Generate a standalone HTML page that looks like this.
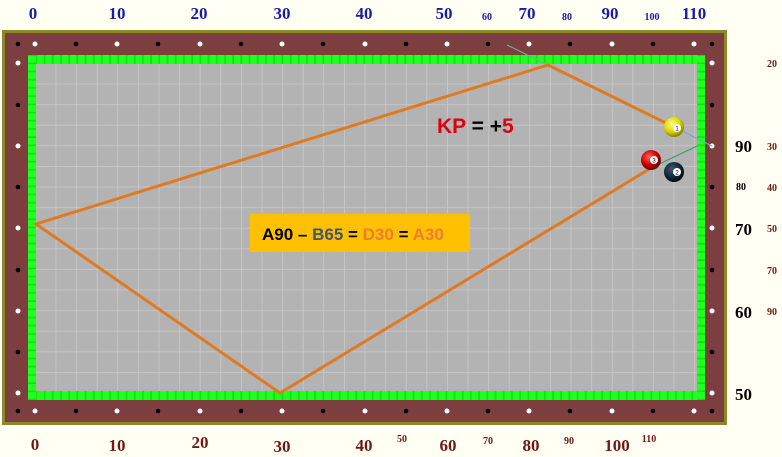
<!DOCTYPE html>
<html><head><meta charset="utf-8"><style>
html,body{margin:0;padding:0;background:#fffff4;}
svg{display:block}
.t{font-family:"Liberation Serif",serif;font-weight:bold;}
</style></head><body>
<svg width="782" height="457" viewBox="0 0 782 457" xmlns="http://www.w3.org/2000/svg">
<defs>
<pattern id="grid" x="35" y="63" width="20.6" height="20.6" patternUnits="userSpaceOnUse">
<rect width="20.6" height="20.6" fill="#b3b3b3"/>
<path d="M0 0H20.6M0 0V20.6" stroke="#cbcbcb" stroke-width="1.5"/>
</pattern>
<pattern id="gh" x="28" y="0" width="8.2" height="10" patternUnits="userSpaceOnUse">
<rect width="8.2" height="10" fill="#00ee00"/><rect x="1" y="0" width="6.5" height="10" fill="#22ff22"/>
</pattern>
<pattern id="gv" x="0" y="55" width="10" height="8.2" patternUnits="userSpaceOnUse">
<rect width="10" height="8.2" fill="#00ee00"/><rect y="1" width="10" height="6.5" fill="#22ff22"/>
</pattern>
<radialGradient id="gy" cx="40%" cy="35%" r="65%"><stop offset="0" stop-color="#ffff90"/><stop offset="0.6" stop-color="#e0d800"/><stop offset="1" stop-color="#8a8000"/></radialGradient>
<radialGradient id="gr" cx="40%" cy="35%" r="65%"><stop offset="0" stop-color="#ff6060"/><stop offset="0.6" stop-color="#d00000"/><stop offset="1" stop-color="#600000"/></radialGradient>
<radialGradient id="gb" cx="40%" cy="35%" r="65%"><stop offset="0" stop-color="#3a5a70"/><stop offset="0.6" stop-color="#142838"/><stop offset="1" stop-color="#050a10"/></radialGradient>
</defs>
<rect x="0" y="0" width="782" height="457" fill="#fffff4"/>
<rect x="3.5" y="31.5" width="722" height="392" fill="#7d3e40" stroke="#8a8a2a" stroke-width="3"/>
<rect x="28" y="55" width="677" height="345" fill="#8a8a2a"/>
<rect x="36" y="64" width="661" height="327" fill="url(#grid)"/>
<rect x="28" y="55" width="677" height="9" fill="url(#gh)"/>
<rect x="28" y="391" width="677" height="9" fill="url(#gh)"/>
<rect x="28" y="55" width="8" height="345" fill="url(#gv)"/>
<rect x="697" y="55" width="8" height="345" fill="url(#gv)"/>
<!-- diamonds top/bottom -->
<g fill="#fff">
<circle cx="35" cy="44" r="2.5"/><circle cx="117" cy="44" r="2.5"/><circle cx="200" cy="44" r="2.5"/><circle cx="282" cy="44" r="2.5"/><circle cx="365" cy="44" r="2.5"/><circle cx="447" cy="44" r="2.5"/><circle cx="529" cy="44" r="2.5"/><circle cx="612" cy="44" r="2.5"/><circle cx="694" cy="44" r="2.5"/>
<circle cx="35" cy="411" r="2.5"/><circle cx="117" cy="411" r="2.5"/><circle cx="200" cy="411" r="2.5"/><circle cx="282" cy="411" r="2.5"/><circle cx="365" cy="411" r="2.5"/><circle cx="447" cy="411" r="2.5"/><circle cx="529" cy="411" r="2.5"/><circle cx="612" cy="411" r="2.5"/><circle cx="694" cy="411" r="2.5"/>
<circle cx="18" cy="63" r="2.5"/><circle cx="18" cy="146" r="2.5"/><circle cx="18" cy="228" r="2.5"/><circle cx="18" cy="311" r="2.5"/><circle cx="18" cy="393" r="2.5"/>
<circle cx="712" cy="63" r="2.5"/><circle cx="712" cy="146" r="2.5"/><circle cx="712" cy="228" r="2.5"/><circle cx="712" cy="311" r="2.5"/><circle cx="712" cy="393" r="2.5"/>
</g>
<g fill="#000">
<circle cx="18" cy="44" r="2.3"/><circle cx="76" cy="44" r="2.3"/><circle cx="158" cy="44" r="2.3"/><circle cx="241" cy="44" r="2.3"/><circle cx="323" cy="44" r="2.3"/><circle cx="406" cy="44" r="2.3"/><circle cx="488" cy="44" r="2.3"/><circle cx="570" cy="44" r="2.3"/><circle cx="653" cy="44" r="2.3"/><circle cx="712" cy="44" r="2.3"/>
<circle cx="18" cy="411" r="2.3"/><circle cx="76" cy="411" r="2.3"/><circle cx="158" cy="411" r="2.3"/><circle cx="241" cy="411" r="2.3"/><circle cx="323" cy="411" r="2.3"/><circle cx="406" cy="411" r="2.3"/><circle cx="488" cy="411" r="2.3"/><circle cx="570" cy="411" r="2.3"/><circle cx="653" cy="411" r="2.3"/><circle cx="712" cy="411" r="2.3"/>
<circle cx="18" cy="105" r="2.3"/><circle cx="18" cy="187" r="2.3"/><circle cx="18" cy="270" r="2.3"/><circle cx="18" cy="352" r="2.3"/>
<circle cx="712" cy="105" r="2.3"/><circle cx="712" cy="187" r="2.3"/><circle cx="712" cy="270" r="2.3"/><circle cx="712" cy="352" r="2.3"/>
</g>
<!-- paths -->
<line x1="507" y1="45" x2="548" y2="65" stroke="#70b0b0" stroke-width="1"/>
<line x1="674" y1="127" x2="712" y2="146" stroke="#70a8d0" stroke-width="1"/>
<line x1="651" y1="168" x2="697" y2="146" stroke="#30a060" stroke-width="1"/>
<polyline points="674,127 548,65 36,224 280,393 651,168" fill="none" stroke="#e07a20" stroke-width="3"/>
<!-- balls -->
<circle cx="674" cy="127" r="10" fill="url(#gy)"/><circle cx="677" cy="128" r="4" fill="#fff"/><text x="677" y="130.5" font-size="6" text-anchor="middle" font-family="Liberation Sans">1</text>
<circle cx="651" cy="160" r="10" fill="url(#gr)"/><circle cx="654" cy="160" r="4" fill="#fff"/><text x="654" y="162.5" font-size="6" text-anchor="middle" font-family="Liberation Sans">3</text>
<circle cx="674" cy="172" r="10" fill="url(#gb)"/><circle cx="677" cy="172" r="4" fill="#fff"/><text x="677" y="174.5" font-size="6" text-anchor="middle" font-family="Liberation Sans">2</text>
<!-- text -->
<text x="437" y="133" font-family="Liberation Sans,sans-serif" font-weight="bold" font-size="21"><tspan fill="#e00010">KP</tspan><tspan fill="#000"> = +</tspan><tspan fill="#e00010">5</tspan></text>
<rect x="250" y="214" width="220" height="38" fill="#ffc000"/>
<text x="262" y="240" font-family="Liberation Sans,sans-serif" font-weight="bold" font-size="17"><tspan fill="#000">A90 – </tspan><tspan fill="#44546a">B65</tspan><tspan fill="#000"> = </tspan><tspan fill="#ed7d31">D30</tspan><tspan fill="#000"> = </tspan><tspan fill="#ed7d31">A30</tspan></text>
<!-- top labels -->
<g class="t" fill="#1a1aa8" font-size="17" text-anchor="middle">
<text x="33" y="19">0</text><text x="117" y="19">10</text><text x="199" y="19">20</text><text x="282" y="19">30</text><text x="364" y="19">40</text><text x="444" y="19">50</text><text x="527" y="19">70</text><text x="610" y="19">90</text><text x="694" y="19">110</text>
<text x="487" y="20" font-size="10">60</text><text x="567" y="20" font-size="10">80</text><text x="652" y="20" font-size="10">100</text>
</g>
<!-- bottom labels -->
<g class="t" fill="#701818" font-size="17" text-anchor="middle">
<text x="35" y="450">0</text><text x="117" y="451">10</text><text x="200" y="448">20</text><text x="282" y="452">30</text><text x="364" y="451">40</text><text x="448" y="451">60</text><text x="531" y="451">80</text><text x="617" y="451">100</text>
<text x="402" y="442" font-size="10">50</text><text x="488" y="444" font-size="10">70</text><text x="569" y="444" font-size="10">90</text><text x="649" y="442" font-size="10">110</text>
</g>
<!-- right labels -->
<g class="t" fill="#000" font-size="17">
<text x="735" y="152">90</text><text x="735" y="235">70</text><text x="735" y="318">60</text><text x="735" y="400">50</text>
<text x="736" y="190" font-size="10">80</text>
</g>
<g class="t" fill="#701818" font-size="10">
<text x="767" y="67">20</text><text x="767" y="150">30</text><text x="767" y="191">40</text><text x="767" y="232">50</text><text x="767" y="274">70</text><text x="767" y="315">90</text>
</g>
</svg>
</body></html>
